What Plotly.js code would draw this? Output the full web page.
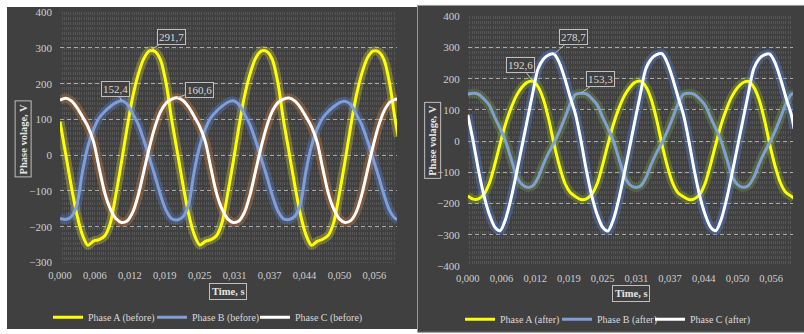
<!DOCTYPE html>
<html><head><meta charset="utf-8">
<script src="https://cdn.plot.ly/plotly-3.0.1.min.js"></script>
<style>html,body{margin:0;padding:0;background:#fff;}#chart{width:804px;height:334px;}</style>
</head><body><div id="chart"></div>
<script>
// time in milliseconds
const timeMs = [0,1,2,3,4,5,6,7,8,9,10,11,12,13,14,15,16,17,18,19,
  20,21,22,23,24,25,26,27,28,29,30,31,32,33,34,35,36,37,38,39,
  40,41,42,43,44,45,46,47,48,49,50,51,52,53,54,55,56,57,58,59,60,60.5];

const tickVals = [0,0.00625,0.0125,0.01875,0.025,0.03125,0.0375,0.04375,0.05,0.05625];
const tickText = ["0,000","0,006","0,012","0,019","0,025","0,031","0,037","0,044","0,050","0,056"];

// before
const phaseA_before = [94,5,-85,-165,-222,-252,-240,-236,-226,-190,-110,-20,76,162,226,270,291.7,290,266,200,
  98,8,-82,-163,-221,-251,-241,-236,-225,-188,-108,-18,78,164,227,271,291,290,267,201,
  97,7,-83,-164,-222,-252,-241,-235,-224,-187,-107,-17,79,165,228,272,291,289,266,199,96,52];
const phaseB_before = [-177,-180,-172,-140,-48,25,72,104,122,136,147,152.4,143,116,86,42,-8,-58,-112,-155,
  -178,-181,-172,-139,-47,26,73,105,123,137,148,152,142,115,85,41,-9,-59,-113,-156,
  -178,-180,-171,-138,-46,26,73,104,122,136,147,151,142,115,85,41,-9,-59,-112,-155,-177,-180];
const phaseC_before = [154,159,152,134,108,80,38,-35,-105,-150,-177,-188,-184,-160,-112,-45,22,80,122,146,
  157,160.6,153,135,109,80,38,-36,-106,-151,-178,-188,-184,-160,-111,-44,23,81,123,147,
  157,160,152,134,108,79,37,-36,-106,-151,-178,-188,-183,-159,-110,-43,24,82,124,148,156,158];

// after
const phaseA_after = [-176,-186,-185,-170,-135,-75,-8,55,105,145,172,188,192.6,175,135,70,-10,-80,-135,-165,
  -178,-187,-185,-170,-136,-76,-9,54,104,144,171,188,192,175,135,70,-10,-80,-135,-166,
  -178,-187,-185,-171,-136,-76,-9,54,104,144,171,187,191,174,134,69,-11,-81,-135,-165,-177,-184];
const phaseB_after = [150,153.3,150,135,115,76,40,0,-55,-110,-138,-148,-144,-118,-75,-37,-5,32,75,120,
  150,153.3,151,136,116,77,40,0,-55,-110,-139,-148,-144,-118,-75,-37,-5,32,75,120,
  150,153,150,135,115,76,39,-1,-56,-111,-139,-148,-143,-117,-74,-36,-4,33,76,121,150,153];
const phaseC_after = [84,0,-95,-175,-235,-275,-287,-250,-185,-105,-20,65,150,230,262,276,278.7,250,200,140,
  84,0,-95,-176,-236,-276,-288,-251,-186,-105,-20,66,151,231,263,277,280,251,200,140,
  84,0,-94,-175,-235,-275,-287,-250,-185,-104,-19,66,151,231,263,276,279,250,199,139,84,40];

const namesBefore = ["Phase A (before)","Phase B (before)","Phase C (before)"];
const namesAfter = ["Phase A (after)","Phase B (after)","Phase C (after)"];

// indices of labelled points
const labelsBefore = [{s:0,i:16},{s:1,i:11},{s:2,i:21}];
const labelsAfter = [{s:0,i:12},{s:1,i:21},{s:2,i:16}];

const timeS = timeMs.map(t => t/1000);

const lineColors = ["#ffff00","#7f9fd6","#ffffff"];
const glowBefore = ["rgba(255,255,60,0.26)","rgba(90,130,220,0.33)","rgba(210,120,50,0.38)"];
const glowAfter = ["rgba(150,200,40,0.28)","rgba(130,180,60,0.28)","rgba(80,130,230,0.38)"];

const seriesBefore = [phaseA_before, phaseB_before, phaseC_before];
const seriesAfter = [phaseA_after, phaseB_after, phaseC_after];

const legendIdsBefore = ['legend','legend2','legend3'];
const legendIdsAfter = ['legend4','legend5','legend6'];

const traces = [];
function glow(ys, col, xa, ya){
  traces.push({x: timeS, y: ys, type:'scatter', mode:'lines', xaxis:xa, yaxis:ya,
    line:{color:col, width:9, shape:'spline', smoothing:0.8}, showlegend:false, hoverinfo:'skip'});
}
function main(ys, col, name, xa, ya, lg){
  traces.push({x: timeS, y: ys, type:'scatter', mode:'lines', xaxis:xa, yaxis:ya, name:name, legend:lg,
    line:{color:col, width:3, shape:'spline', smoothing:0.8}});
}
seriesBefore.forEach((s,k)=>glow(s, glowBefore[k], 'x', 'y'));
seriesAfter.forEach((s,k)=>glow(s, glowAfter[k], 'x2', 'y2'));
seriesBefore.forEach((s,k)=>main(s, lineColors[k], namesBefore[k], 'x', 'y', legendIdsBefore[k]));
seriesAfter.forEach((s,k)=>main(s, lineColors[k], namesAfter[k], 'x2', 'y2', legendIdsAfter[k]));

const W = 804, H = 334;
const px = v => v/W, py = v => 1 - v/H;
const serif = 'Liberation Serif';
const panel = '#404040';

function xax(domain, anchor){
  return {domain: domain, anchor: anchor, range:[0, 0.0603], tickmode:'array', tickvals: tickVals, ticktext: tickText,
    showgrid:false, zeroline:false, showline:false, ticks:'', ticklabelstandoff:5,
    tickfont:{family:serif, size:10.5, color:'#cfcfcf'},
    minor:{tickmode:'linear', tick0:0, dtick:0.000390625, showgrid:true,
      gridcolor:'rgba(190,190,190,0.17)', griddash:'3px,2px', gridwidth:1, ticks:''}};
}
function yax(domain, range, anchor){
  return {domain: domain, anchor: anchor, range: range, dtick:100, tick0:0, showgrid:true, gridcolor:'#a9a9a9',
    griddash:'4px,3px', gridwidth:1, zeroline:false, showline:false, ticks:'', ticklabelstandoff:7,
    tickfont:{family:serif, size:11, color:'#cfcfcf'}};
}

const annotations = [];
function boxLabel(xa, ya, t, v, ax, ay){
  annotations.push({xref:xa, yref:ya, x:t, y:v, text: v.toFixed(1).replace('.', ','),
    showarrow:true, arrowhead:0, arrowwidth:1, arrowcolor:'#bfbfbf', ax:ax, ay:ay,
    font:{family:serif, size:11, color:'#d9d9d9'}, bordercolor:'#bfbfbf', borderwidth:1, borderpad:1,
    bgcolor:panel});
}
const offBefore = [[22,-14],[-6,-12],[22,-8]];
const offAfter = [[-12,-16],[19,-14],[19,-17]];
labelsBefore.forEach((l,k)=>boxLabel('x','y', timeS[l.i], seriesBefore[l.s][l.i], offBefore[k][0], offBefore[k][1]));
labelsAfter.forEach((l,k)=>boxLabel('x2','y2', timeS[l.i], seriesAfter[l.s][l.i], offAfter[k][0], offAfter[k][1]));

function title(text, x, y, angle){
  annotations.push({xref:'paper', yref:'paper', x:px(x), y:py(y), xanchor:'center', yanchor:'middle',
    text:'<b>'+text+'</b>', showarrow:false, textangle:angle,
    font:{family:serif, size:10.5, color:'#e6e6e6'}, bordercolor:'#bfbfbf', borderwidth:1, borderpad:2});
}
title('Phase volage, V', 23.5, 141, -90);
title('Phase volage, V', 433, 143, -90);
title('Time, s', 228, 295.5, 0);
title('Time, s', 630.5, 298, 0);

function leg(x, y){
  return {orientation:'h', x:px(x), xanchor:'left', y:py(y), yanchor:'middle', bgcolor:'rgba(0,0,0,0)',
    font:{family:serif, size:10, color:'#d9d9d9'}};
}

const layout = {
  width: W, height: H, margin:{l:0,r:0,t:0,b:0}, paper_bgcolor:'#ffffff', plot_bgcolor:'rgba(0,0,0,0)',
  xaxis: xax([px(60), px(397)], 'y'), yaxis: yax([py(266.5), py(12.3)], [-300,400], 'x'),
  xaxis2: xax([px(467.8), px(793)], 'y2'), yaxis2: yax([py(270), py(16.5)], [-400,400], 'x2'),
  shapes:[
    {type:'rect', xref:'paper', yref:'paper', x0:px(7), x1:px(418), y0:0, y1:py(7), fillcolor:panel, line:{width:0}, layer:'below'},
    {type:'rect', xref:'paper', yref:'paper', x0:px(417.5), x1:1.01, y0:-0.01, y1:py(5.5), fillcolor:panel, line:{width:1, color:'#9a9a9a'}, layer:'below'}
  ],
  annotations: annotations,
  legend: leg(48, 322), legend2: leg(152, 322), legend3: leg(255, 322),
  legend4: leg(460, 324), legend5: leg(557, 324), legend6: leg(650, 324),
  showlegend:true
};
Plotly.newPlot('chart', traces, layout, {displayModeBar:false, staticPlot:true});
</script>
</body></html>
